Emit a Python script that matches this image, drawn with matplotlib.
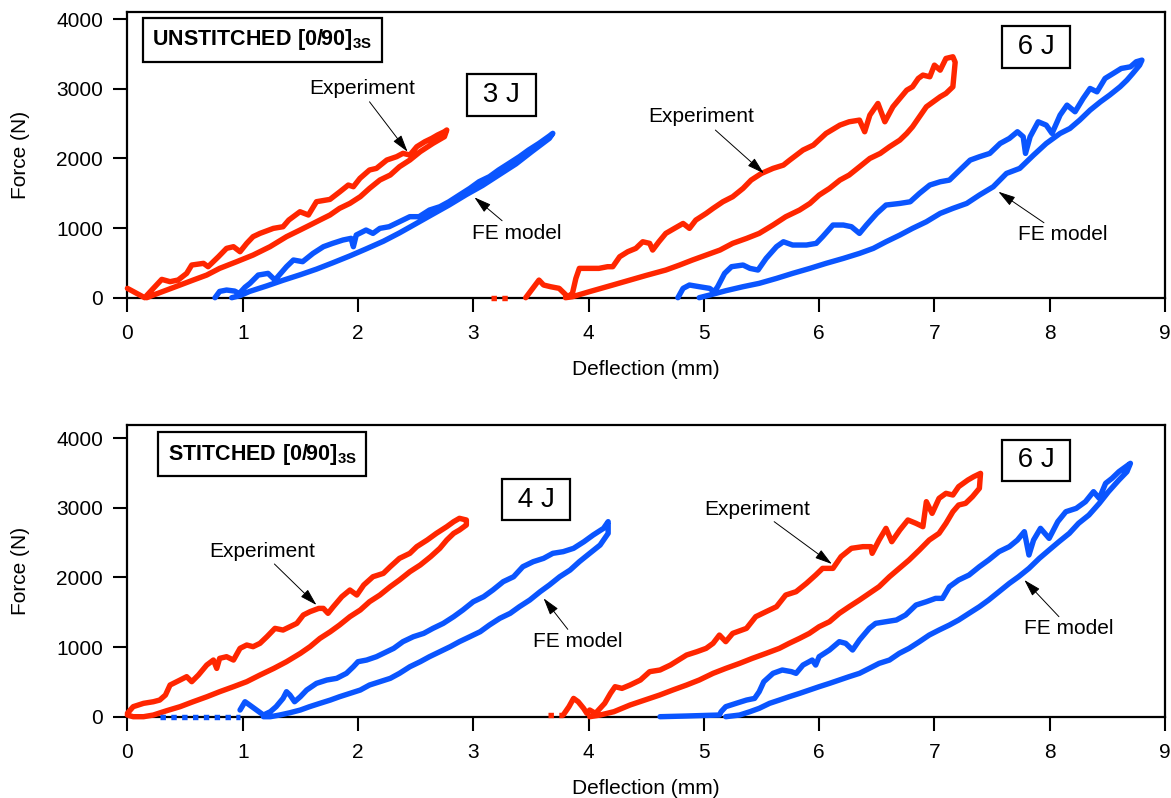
import matplotlib
matplotlib.use("Agg")
import matplotlib.pyplot as plt

plt.rcParams["font.family"] = ["Liberation Sans", "DejaVu Sans"]
plt.rcParams["mathtext.fontset"] = "custom"
plt.rcParams["mathtext.rm"] = "Liberation Sans"
plt.rcParams["mathtext.bf"] = "Liberation Sans:bold"

RED  = "#ff2600"
BLUE = "#0a55ff"

X_TICKS = list(range(0, 10))
Y_TICKS = [0, 1000, 2000, 3000, 4000]

# ---- UNSTITCHED, 3 J -------------------------------------------------------
U3_EXP_X = [0, 0.15, 0.225, 0.298, 0.37, 0.44, 0.514, 0.558, 0.66, 0.70, 0.79, 0.86, 0.92,
            0.977, 1.035, 1.09, 1.15, 1.266, 1.35, 1.40, 1.497, 1.57, 1.64, 1.757, 1.844,
            1.916, 1.96, 2.017, 2.10, 2.16, 2.25, 2.335, 2.39, 2.45, 2.51, 2.58, 2.64, 2.69,
            2.75, 2.77,
            2.75, 2.65, 2.54, 2.45, 2.36, 2.28, 2.19, 2.10, 2.02, 1.93, 1.84, 1.757, 1.67,
            1.584, 1.497, 1.38, 1.237, 1.09, 0.948, 0.80, 0.688, 0.572, 0.457, 0.341, 0.225,
            0.168]
U3_EXP_Y = [134, 0, 134, 263, 230, 254, 349, 469, 493, 445, 589, 708, 732,
            660, 780, 876, 923, 995, 1019, 1115, 1234, 1187, 1378, 1411, 1522,
            1617, 1593, 1713, 1833, 1856, 1976, 2024, 2072, 2048, 2167, 2239, 2287, 2335,
            2383, 2407,
            2311, 2215, 2096, 1976, 1880, 1761, 1689, 1569, 1450, 1354, 1282, 1187, 1115,
            1043, 971, 876, 732, 612, 517, 421, 325, 254, 182, 110, 38,
            0]
U3_FE_X = [0.76, 0.80, 0.86, 0.93, 0.97, 1.02, 1.063, 1.135, 1.22, 1.28, 1.38, 1.44, 1.52,
           1.61, 1.70, 1.78, 1.87, 1.94, 1.96, 1.985, 2.07, 2.13, 2.19, 2.27, 2.36, 2.45,
           2.53, 2.62, 2.71, 2.79, 2.88, 2.97, 3.05, 3.14, 3.22, 3.31, 3.40, 3.48, 3.57,
           3.66, 3.69,
           3.66, 3.51, 3.37, 3.22, 3.08, 2.94, 2.79, 2.65, 2.50, 2.36, 2.22, 2.07, 1.93,
           1.78, 1.64, 1.50, 1.35, 1.21, 1.06, 0.977, 0.905]
U3_FE_Y = [0, 90, 110, 95, 60, 150, 206, 325, 349, 254, 445, 541, 517,
           636, 732, 780, 828, 852, 732, 900, 971, 923, 995, 1019, 1091, 1163,
           1163, 1258, 1306, 1378, 1474, 1569, 1665, 1737, 1833, 1928, 2024, 2120, 2215,
           2321, 2359,
           2287, 2100, 1920, 1760, 1610, 1480, 1330, 1200, 1060, 930, 810, 700, 600,
           500, 410, 330, 250, 170, 90, 30, 0]

# ---- UNSTITCHED, 6 J -------------------------------------------------------
U6_EXP_DOTS_X = [3.15, 3.33]
U6_EXP_X = [3.455, 3.57, 3.61, 3.67, 3.745, 3.79, 3.82, 3.86, 3.89, 3.92, 4.006, 4.09,
            4.165, 4.21, 4.27, 4.34, 4.41, 4.47, 4.53, 4.556, 4.61, 4.67, 4.745, 4.82,
            4.875, 4.93, 5.02, 5.08, 5.165, 5.25, 5.34, 5.41, 5.50, 5.60, 5.69, 5.745,
            5.86, 5.95, 6.06, 6.18, 6.26, 6.35, 6.395, 6.44, 6.51, 6.57, 6.64, 6.70, 6.76,
            6.81, 6.86, 6.90, 6.96, 7.00, 7.05, 7.10, 7.16, 7.18,
            7.16, 7.10, 7.05, 6.99, 6.93, 6.87, 6.81, 6.76, 6.70, 6.61, 6.53, 6.44, 6.35,
            6.26, 6.18, 6.09, 6.00, 5.92, 5.83, 5.71, 5.60, 5.48, 5.37, 5.25, 5.14, 5.02,
            4.90, 4.79, 4.67, 4.50, 4.21, 4.006, 3.86, 3.80]
U6_EXP_Y = [0, 253, 182, 158, 134, 62, 14, 62, 277, 421, 421, 421,
            445, 445, 588, 660, 708, 803, 780, 684, 803, 923, 995, 1066,
            995, 1114, 1210, 1282, 1377, 1449, 1569, 1688, 1784, 1856, 1903, 1975,
            2119, 2190, 2358, 2477, 2525, 2549, 2382, 2621, 2788, 2525, 2740, 2860, 2979,
            3027, 3147, 3195, 3171, 3338, 3266, 3434, 3458, 3380,
            3027, 2932, 2884, 2812, 2740, 2597, 2453, 2358, 2262, 2166, 2071, 1999, 1879,
            1760, 1688, 1569, 1473, 1353, 1258, 1162, 1043, 923, 851, 780, 684, 612,
            540, 469, 397, 320, 182, 86, 14, 0]
U6_FE_X = [4.775, 4.82, 4.875, 4.96, 5.05, 5.09, 5.12, 5.18, 5.24, 5.34, 5.40, 5.47, 5.54,
           5.63, 5.69, 5.77, 5.89, 5.975, 6.03, 6.12, 6.21, 6.28, 6.35, 6.41, 6.50, 6.58,
           6.70, 6.79, 6.87, 6.96, 7.05, 7.13, 7.22, 7.31, 7.39, 7.48, 7.57, 7.65, 7.72,
           7.77, 7.79, 7.83, 7.90, 7.97, 8.02, 8.09, 8.15, 8.22, 8.29, 8.35, 8.41, 8.48,
           8.55, 8.62, 8.70, 8.75, 8.80,
           8.78, 8.72, 8.67, 8.61, 8.52, 8.44, 8.35, 8.26, 8.175, 8.09, 7.97, 7.86, 7.74,
           7.625, 7.51, 7.39, 7.28, 7.16, 7.05, 6.93, 6.81, 6.70, 6.58, 6.47, 6.35, 6.21,
           6.06, 5.92, 5.77, 5.63, 5.48, 5.34, 5.19, 5.05, 4.96]
U6_FE_Y = [0, 134, 182, 158, 134, 86, 158, 349, 445, 469, 421, 397, 564,
           732, 803, 756, 756, 780, 875, 1043, 1043, 1019, 923, 1043, 1210, 1330,
           1353, 1377, 1497, 1617, 1664, 1688, 1832, 1975, 2023, 2071, 2214, 2286, 2382,
           2310, 2071, 2310, 2525, 2477, 2358, 2621, 2764, 2669, 2860, 3003, 2955, 3147,
           3218, 3290, 3314, 3386, 3410,
           3338, 3218, 3123, 3027, 2908, 2812, 2692, 2549, 2429, 2358, 2214, 2047, 1856,
           1784, 1592, 1473, 1353, 1282, 1210, 1090, 995, 899, 803, 708, 636, 564,
           493, 421, 349, 277, 206, 158, 100, 38, 0]

# ---- STITCHED, 4 J ---------------------------------------------------------
S4_EXP_X = [0, 0.05, 0.14, 0.225, 0.28, 0.33, 0.37, 0.457, 0.514, 0.558, 0.616, 0.688,
            0.746, 0.775, 0.80, 0.86, 0.92, 0.977, 1.035, 1.09, 1.15, 1.21, 1.28, 1.35,
            1.41, 1.47, 1.526, 1.584, 1.66, 1.70, 1.74, 1.786, 1.86, 1.93, 1.99, 2.05,
            2.13, 2.22, 2.28, 2.36, 2.45, 2.51, 2.60, 2.68, 2.77, 2.83, 2.88, 2.94,
            2.94, 2.88, 2.83, 2.77, 2.71, 2.63, 2.54, 2.45, 2.36, 2.28, 2.19, 2.10, 2.02,
            1.93, 1.84, 1.76, 1.67, 1.584, 1.50, 1.38, 1.27, 1.15, 1.035, 0.92, 0.80,
            0.69, 0.57, 0.457, 0.34, 0.225, 0.14, 0.05, 0]
S4_EXP_Y = [48, 144, 192, 215, 239, 311, 455, 527, 575, 503, 599, 742,
            814, 694, 838, 862, 814, 982, 1030, 1006, 1054, 1149, 1269, 1245,
            1293, 1341, 1461, 1509, 1556, 1556, 1485, 1580, 1724, 1820, 1748, 1892,
            2011, 2059, 2155, 2275, 2347, 2443, 2538, 2634, 2730, 2802, 2850, 2826,
            2754, 2682, 2634, 2538, 2419, 2299, 2179, 2083, 1964, 1868, 1748, 1652, 1533,
            1437, 1317, 1221, 1125, 1006, 910, 790, 694, 599, 503, 431, 359,
            287, 215, 144, 86, 24, 0, 0, 24]
S4_FE_DOTS_X = [0.28, 0.98]
S4_FE_X = [0.977, 1.02, 1.06, 1.12, 1.18, 1.24, 1.29, 1.35, 1.38, 1.41, 1.45, 1.50, 1.555,
           1.64, 1.73, 1.815, 1.90, 1.96, 2.00, 2.075, 2.16, 2.22, 2.31, 2.39, 2.48, 2.57,
           2.65, 2.74, 2.83, 2.91, 3.00, 3.09, 3.17, 3.26, 3.35, 3.43, 3.52, 3.61, 3.69,
           3.78, 3.87, 3.96, 4.04, 4.13, 4.17,
           4.17, 4.10, 4.01, 3.92, 3.84, 3.75, 3.66, 3.58, 3.49, 3.40, 3.32, 3.23, 3.14,
           3.06, 2.97, 2.88, 2.80, 2.71, 2.62, 2.54, 2.45, 2.36, 2.28, 2.19, 2.10, 2.02,
           1.93, 1.84, 1.76, 1.67, 1.58, 1.50, 1.41, 1.32, 1.24, 1.18]
S4_FE_Y = [96, 215, 168, 96, 24, 72, 144, 263, 359, 311, 215, 287, 383,
           479, 527, 551, 623, 718, 790, 814, 862, 910, 982, 1078, 1149, 1197,
           1269, 1341, 1437, 1533, 1652, 1724, 1820, 1940, 2011, 2155, 2227, 2275, 2347,
           2371, 2419, 2514, 2610, 2706, 2802,
           2634, 2466, 2347, 2227, 2107, 2011, 1892, 1796, 1676, 1580, 1485, 1413, 1317,
           1221, 1149, 1078, 1006, 934, 862, 790, 718, 623, 551, 503, 455, 383,
           335, 287, 239, 192, 144, 96, 57, 24, 0, 0]

# ---- STITCHED, 6 J ---------------------------------------------------------
S6_EXP_DOTS_X = [3.65, 3.78]
S6_EXP_X = [3.78, 3.83, 3.87, 3.91, 3.957, 3.985, 4.01, 4.06, 4.10, 4.14, 4.19, 4.23, 4.29,
            4.36, 4.45, 4.53, 4.62, 4.71, 4.78, 4.85, 4.94, 5.02, 5.08, 5.135, 5.19, 5.25,
            5.37, 5.45, 5.54, 5.63, 5.71, 5.80, 5.89, 5.97, 6.03, 6.12, 6.19, 6.28, 6.38,
            6.45, 6.46, 6.52, 6.58, 6.63, 6.70, 6.77, 6.84, 6.90, 6.93, 6.98, 7.04, 7.10,
            7.16, 7.21, 7.29, 7.34, 7.40,
            7.39, 7.33, 7.27, 7.21, 7.16, 7.10, 7.04, 6.955, 6.87, 6.78, 6.695, 6.61, 6.52,
            6.435, 6.35, 6.26, 6.175, 6.09, 6.00, 5.915, 5.83, 5.74, 5.655, 5.54, 5.42,
            5.31, 5.19, 5.08, 4.96, 4.85, 4.73, 4.616, 4.53, 4.36, 4.22, 4.10, 4.01]
S6_EXP_Y = [24, 144, 263, 215, 120, 48, 96, 48, 120, 192, 335, 431, 407,
            455, 527, 647, 671, 742, 814, 886, 934, 982, 1054, 1173, 1078, 1197,
            1269, 1437, 1509, 1580, 1748, 1796, 1916, 2035, 2131, 2131, 2299, 2419, 2443,
            2443, 2347, 2538, 2706, 2514, 2682, 2826, 2778, 2730, 3089, 2921, 3137, 3209,
            3185, 3305, 3400, 3448, 3496,
            3281, 3161, 3065, 3041, 2945, 2778, 2634, 2538, 2395, 2251, 2131, 2011, 1868,
            1772, 1676, 1580, 1485, 1365, 1293, 1197, 1125, 1054, 982, 910, 838,
            766, 694, 623, 527, 455, 383, 311, 263, 168, 72, 24, 0]
S6_FE_X = [4.62, 4.85, 5.05, 5.135, 5.15, 5.19, 5.28, 5.37, 5.44, 5.48, 5.52, 5.60, 5.68,
           5.76, 5.80, 5.86, 5.94, 5.97, 6.00, 6.09, 6.175, 6.23, 6.29, 6.35, 6.435, 6.49,
           6.58, 6.67, 6.75, 6.84, 6.93, 7.01, 7.07, 7.13, 7.21, 7.30, 7.39, 7.47, 7.56,
           7.65, 7.72, 7.78, 7.82, 7.86, 7.92, 7.995, 8.07, 8.14, 8.23, 8.31, 8.38, 8.43,
           8.485, 8.54, 8.60, 8.66, 8.70,
           8.67, 8.60, 8.51, 8.43, 8.34, 8.25, 8.17, 8.08, 7.995, 7.91, 7.82, 7.73, 7.65,
           7.56, 7.47, 7.39, 7.30, 7.21, 7.13, 7.04, 6.955, 6.87, 6.78, 6.695, 6.61, 6.52,
           6.435, 6.35, 6.26, 6.175, 6.09, 6.00, 5.915, 5.83, 5.74, 5.655, 5.57, 5.48,
           5.40, 5.31, 5.19]
S6_FE_Y = [0, 10, 20, 24, 72, 144, 192, 239, 263, 359, 503, 623, 671,
           647, 623, 742, 814, 742, 862, 958, 1078, 1054, 958, 1102, 1269, 1341,
           1365, 1389, 1461, 1604, 1652, 1700, 1700, 1868, 1964, 2035, 2155, 2251, 2371,
           2443, 2538, 2658, 2323, 2538, 2706, 2562, 2802, 2945, 2993, 3089, 3233, 3137,
           3353, 3424, 3520, 3592, 3640,
           3520, 3400, 3233, 3065, 2897, 2778, 2634, 2514, 2395, 2275, 2131, 2011, 1916,
           1796, 1676, 1580, 1485, 1389, 1317, 1245, 1173, 1078, 982, 910, 814, 766,
           694, 623, 575, 527, 479, 431, 383, 335, 287, 239, 192, 120,
           72, 24, 0]

W, H = 1171, 798
LW = 3.9


def draw_loop(ax, x, y, color):
    ax.plot(x, y, color=color, lw=LW, solid_joinstyle="round",
            solid_capstyle="round", clip_on=False, zorder=3)


def draw_dots(ax, x, level, color):
    ax.plot(x, [level, level], color=color, lw=LW, ls=(0, (1.0, 1.0)),
            clip_on=False, zorder=3)


def note(ax, label, text_xy, tail, head):
    ax.text(*text_xy, label, fontsize=15, ha="center", va="center", zorder=5)
    ax.annotate("", xy=head, xytext=tail,
                arrowprops=dict(arrowstyle="-|>,head_length=0.75,head_width=0.22",
                                color="black", lw=0.7, shrinkA=0, shrinkB=0,
                                mutation_scale=14), zorder=5)


def style_axes(ax, ytop):
    ax.set_xlim(0, 9)
    ax.set_ylim(0, ytop)
    ax.set_xticks(X_TICKS)
    ax.set_yticks(Y_TICKS)
    ax.tick_params(direction="out", length=10, width=1.5, labelsize=15,
                   top=False, right=False)
    ax.tick_params(axis="x", pad=9)
    ax.tick_params(axis="y", pad=7.5)
    for s in ax.spines.values():
        s.set_linewidth(1.6)
    ax.set_xlabel("Deflection (mm)", fontsize=15, labelpad=12)
    ax.set_ylabel("Force (N)", fontsize=15, labelpad=19)


def box_label(ax, xy, text, size, pad=0.45):
    ax.text(*xy, text, fontsize=size, ha="center", va="center", zorder=6,
            bbox=dict(boxstyle=f"square,pad={pad}", fc="white", ec="black", lw=1.6))


fig = plt.figure(figsize=(W / 100, H / 100), dpi=100)
left = 127.4 / W
width = (1165 - 127.4) / W
ax1 = fig.add_axes([left, 1 - 297.7 / H, width, (297.7 - 11.7) / H])
ax2 = fig.add_axes([left, 1 - 716.7 / H, width, (716.7 - 424.7) / H])

# top panel
style_axes(ax1, 4105)
draw_loop(ax1, U3_EXP_X, U3_EXP_Y, RED)
draw_loop(ax1, U3_FE_X, U3_FE_Y, BLUE)
draw_dots(ax1, U6_EXP_DOTS_X, 0, RED)
draw_loop(ax1, U6_EXP_X, U6_EXP_Y, RED)
draw_loop(ax1, U6_FE_X, U6_FE_Y, BLUE)
box_label(ax1, (1.17, 3700), r"$\mathbf{UNSTITCHED\ [0/90]_{3S}}$", 15.5)
box_label(ax1, (3.245, 2913), " 3 J ", 20, pad=0.28)
box_label(ax1, (7.885, 3602), " 6 J ", 20, pad=0.28)
note(ax1, "Experiment", (2.035, 3004), (2.10, 2812), (2.43, 2095))
note(ax1, "FE model", (3.38, 924), (3.25, 1105), (3.01, 1440))
note(ax1, "Experiment", (4.975, 2597), (5.10, 2406), (5.52, 1785))
note(ax1, "FE model", (8.11, 900), (7.95, 1076), (7.555, 1521))

# bottom panel
style_axes(ax2, 4195)
draw_loop(ax2, S4_EXP_X, S4_EXP_Y, RED)
draw_dots(ax2, S4_FE_DOTS_X, 0, BLUE)
draw_loop(ax2, S4_FE_X, S4_FE_Y, BLUE)
draw_dots(ax2, S6_EXP_DOTS_X, 24, RED)
draw_loop(ax2, S6_EXP_X, S6_EXP_Y, RED)
draw_loop(ax2, S6_FE_X, S6_FE_Y, BLUE)
box_label(ax2, (1.17, 3774), r"$\mathbf{STITCHED\ [0/90]_{3S}}$", 15.5)
box_label(ax2, (3.545, 3118), " 4 J ", 20, pad=0.28)
box_label(ax2, (7.885, 3683), " 6 J ", 20, pad=0.28)
note(ax2, "Experiment", (1.17, 2371), (1.275, 2194), (1.64, 1605))
note(ax2, "FE model", (3.91, 1078), (3.82, 1255), (3.61, 1701))
note(ax2, "Experiment", (5.465, 2970), (5.61, 2802), (6.11, 2194))
note(ax2, "FE model", (8.167, 1270), (8.08, 1437), (7.78, 1964))

fig.savefig("out.png", dpi=100)
